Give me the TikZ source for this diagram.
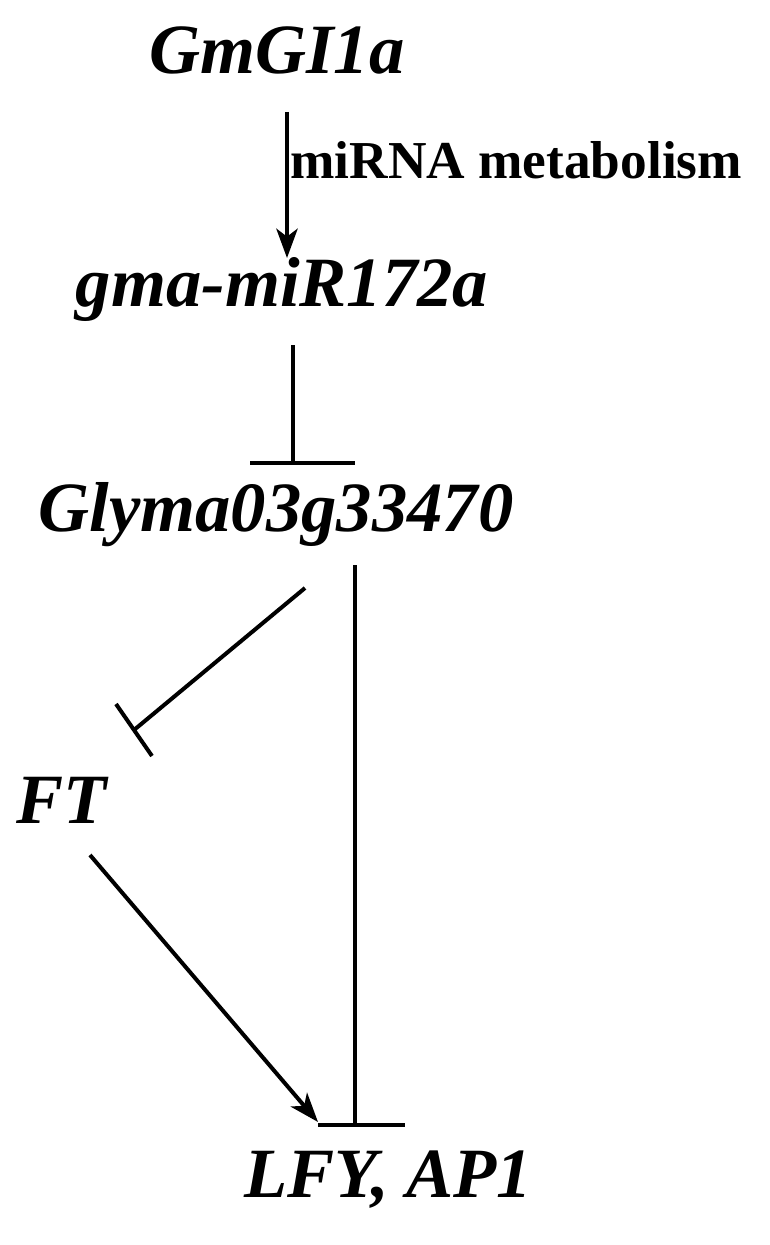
\documentclass[tikz,border=0pt]{standalone}
\usepackage{fontspec}
\setmainfont{Liberation Serif}
\usetikzlibrary{arrows.meta}
\begin{document}
\begin{tikzpicture}[x=0.75pt,y=-0.75pt,
  gene/.style={font=\fontsize{53}{56}\selectfont\bfseries\itshape,inner sep=0},
  ln/.style={line width=3pt},
  act/.style={ln,-{Stealth[length=22pt,width=16pt,inset=6pt]}}]
\useasboundingbox (0,0) rectangle (769,1245);
\node[gene] (gi) at (277,50) {GmGI1a};
\node[gene] (mir) at (282,290) {gma-miR172a};
\node[gene] (gly) at (276,515) {Glyma03g33470};
\node[gene] (ft) at (62,800) {FT};
\node[gene] (lfy) at (388,1180) {LFY, AP1};
\coordinate (a1) at (287,112); \coordinate (a2) at (287,258);
\draw[act] (a1) -- (a2);
\node[font=\fontsize{40}{44}\selectfont\bfseries,anchor=west,inner sep=0] (lab) at (290,160) {miRNA metabolism};
\coordinate (b1) at (293,345); \coordinate (b2) at (293,463);
\draw[ln] (b1) -- (b2); \draw[ln] (250,463) -- (355,463);
\coordinate (c1) at (305,588); \coordinate (c2) at (134,730);
\draw[ln] (c1) -- (c2); \draw[ln] (116,704) -- (152,756);
\coordinate (d1) at (355,565); \coordinate (d2) at (355,1125);
\draw[ln] (d1) -- (d2); \draw[ln] (318,1125) -- (405,1125);
\coordinate (e1) at (90,855); \coordinate (e2) at (318,1122);
\draw[act] (e1) -- (e2);
\end{tikzpicture}
\end{document}
